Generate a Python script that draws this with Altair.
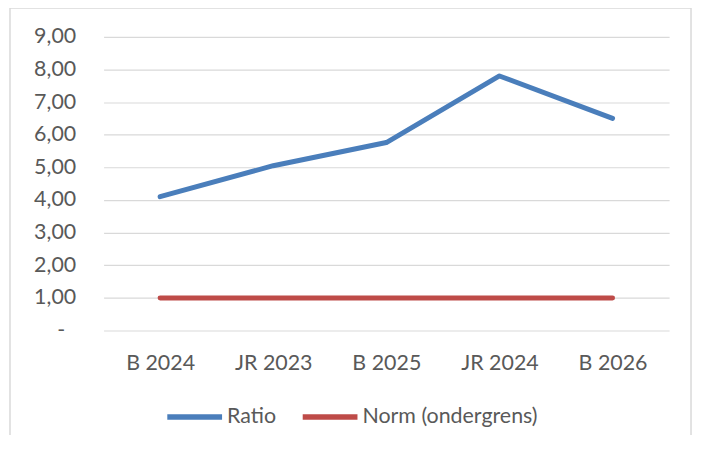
import altair as alt
import pandas as pd

categories = ["B 2024", "JR 2023", "B 2025", "JR 2024", "B 2026"]
ratio = [4.10, 5.05, 5.76, 7.80, 6.50]
norm = [1.00, 1.00, 1.00, 1.00, 1.00]
series_names = ["Ratio", "Norm (ondergrens)"]
series_colors = ["#4a7ebb", "#be4b48"]
y_ticks = [0, 1, 2, 3, 4, 5, 6, 7, 8, 9]

rows = []
for c, r, n in zip(categories, ratio, norm):
    rows.append({"cat": c, "serie": series_names[0], "waarde": r})
    rows.append({"cat": c, "serie": series_names[1], "waarde": n})
df = pd.DataFrame(rows)

FONT = "Lato, Carlito, sans-serif"
FS = 21.5

border = alt.Chart(pd.DataFrame({"a": [0]})).mark_rect(
    fill="transparent", stroke="#d9d9d9", strokeWidth=1.5
).encode(
    x=alt.value(-94), x2=alt.value(590), y=alt.value(-29), y2=alt.value(440)
)

lines = alt.Chart(df).mark_line(strokeWidth=5, strokeCap="round", strokeJoin="round").encode(
    x=alt.X("cat:N", sort=categories, title=None,
            scale=alt.Scale(paddingInner=0, paddingOuter=0),
            axis=alt.Axis(labelAngle=0, domain=False, ticks=False, grid=False,
                          labelPadding=22, labelFontSize=FS, labelColor="#595959",
                          labelFont=FONT)),
    y=alt.Y("waarde:Q", title=None,
            scale=alt.Scale(domain=[0, 9], nice=False, zero=True),
            axis=alt.Axis(values=y_ticks, domain=False, ticks=False, grid=True,
                          gridColor="#d9d9d9", gridWidth=1.2,
                          labelPadding={"condition": {"test": "datum.value === 0", "value": 39}, "value": 28},
                          labelFontSize=FS, labelColor="#595959",
                          labelFont=FONT,
                          labelExpr="datum.value == 0 ? '-' : replace(format(datum.value, '.2f'), '.', ',')")),
    color=alt.Color("serie:N", sort=series_names,
                    scale=alt.Scale(domain=series_names, range=series_colors),
                    legend=alt.Legend(title=None, orient="none", direction="horizontal",
                                      legendX=61, legendY=351,
                                      symbolType="stroke", symbolSize=3025,
                                      symbolStrokeWidth=5.5, columnPadding=15,
                                      labelFontSize=FS, labelColor="#595959",
                                      labelFont=FONT, labelOffset=2, labelLimit=400)),
    detail="serie:N",
)

chart = alt.layer(border, lines).properties(
    width=568, height=295,
    autosize=alt.AutoSizeParams(type="none"),
    padding={"left": 96, "top": 28, "right": 24, "bottom": 104},
    background="white",
).configure_view(stroke=None)

chart.save("out.html", embed_options={"renderer": "svg", "actions": False})
